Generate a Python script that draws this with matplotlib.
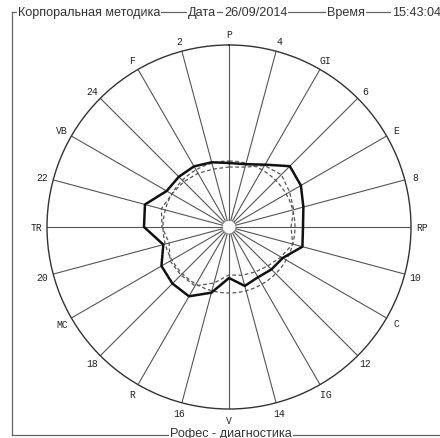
import numpy as np
import matplotlib
matplotlib.use("Agg")
import matplotlib.pyplot as plt

# ---- data ----
labels = ["P", "4", "GI", "6", "E", "8", "RP", "10", "C", "12", "IG", "14",
          "V", "16", "R", "18", "MC", "20", "TR", "22", "VB", "24", "F", "2"]
# measured profile (thick line), scale: outer circle = 182
measured = [64, 65, 72, 86, 83, 77, 74, 76, 62, 60, 58, 61,
            51, 68, 80, 80, 78, 68, 85, 87, 72, 71, 70, 67]
# reference profile (dashed line)
reference = [60, 62, 71, 74, 70, 67, 62, 66, 60, 55, 52, 50,
             48, 58, 68, 68, 68, 62, 67, 70, 66, 64, 62, 60]
norm_radius = 66
r_max = 182
r_inner = 7
title_parts = ["Корпоральная методика", "Дата", "26/09/2014", "Время", "15:43:04"]
title_x = [18, 188, 224, 327, 392]
footer = "Рофес - диагностика"

W, H = 440, 439
fig = plt.figure(figsize=(W / 100, H / 100), dpi=100)
fig.patch.set_facecolor("white")

# frame / title overlay in pixel coordinates
ax0 = fig.add_axes([0, 0, 1, 1])
ax0.set_xlim(0, W)
ax0.set_ylim(H, 0)
ax0.axis("off")
fc = "#666666"
ax0.plot([12, W], [13, 13], color=fc, lw=0.9)
ax0.plot([12, 12], [13, 436], color=fc, lw=0.9)
ax0.plot([12, W], [436, 436], color=fc, lw=0.9)
for txt, x in zip(title_parts, title_x):
    ax0.text(x, 13, txt, fontsize=9.1, family="Liberation Sans", color="#333333",
             ha="left", va="center",
             bbox=dict(facecolor="white", edgecolor="none", pad=0.6))
ax0.text(231, 434, footer, fontsize=9.1, family="Liberation Sans", color="#333333",
         ha="center", va="center",
         bbox=dict(facecolor="white", edgecolor="none", pad=0.6))

# polar chart
cx, cy, R = 229, 228, 182
ax = fig.add_axes([(cx - R) / W, (H - cy - R) / H, 2 * R / W, 2 * R / H],
                  projection="polar")
ax.set_theta_zero_location("N")
ax.set_theta_direction(-1)
ax.set_ylim(0, r_max)
ax.set_xticks([])
ax.set_yticks([])
ax.grid(False)
ax.patch.set_alpha(0)
ax.spines["polar"].set_color("#333333")
ax.spines["polar"].set_linewidth(1.0)

n = len(labels)
theta = np.arange(n) * 2 * np.pi / n
for t in theta:
    ax.plot([t, t], [r_inner, r_max], color="#555555", lw=0.8)

tc = np.linspace(0, 2 * np.pi, 361)
ax.plot(tc, np.full_like(tc, norm_radius), color="#555555", lw=0.9, ls=(0, (3, 2)))
ax.plot(tc, np.full_like(tc, r_inner), color="#888888", lw=0.6)

th_c = np.append(theta, theta[0])
ax.plot(th_c, np.append(reference, reference[0]), color="#555555", lw=0.9, ls=(0, (3, 2)))
ax.plot(th_c, np.append(measured, measured[0]), color="#111111", lw=1.8)

for t, lab in zip(theta, labels):
    ax.text(t, 193, lab, family="Liberation Mono", fontsize=7, color="#222222",
            ha="center", va="center")

fig.savefig("out.png", dpi=100, facecolor="white")
